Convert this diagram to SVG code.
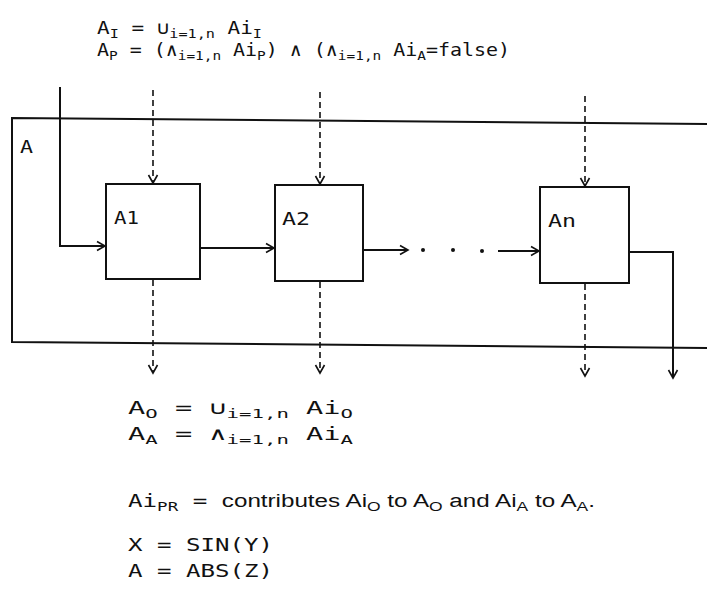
<svg xmlns="http://www.w3.org/2000/svg" width="707" height="602" viewBox="0 0 707 602">
<style>
.ln{fill:none;stroke:#111;stroke-width:2}
.ds{fill:none;stroke:#111;stroke-width:1.6;stroke-dasharray:6,4}
.bx{fill:#fff;stroke:#111;stroke-width:2}
.t{font-family:"DejaVu Sans Mono","Liberation Mono",monospace;font-size:18px;fill:#111}
.s{font-size:13px}
.p{font-family:"Liberation Sans",Arial,sans-serif}
</style>
<defs>
<marker id="ah" markerWidth="12" markerHeight="12" refX="10" refY="6" orient="auto" markerUnits="userSpaceOnUse">
<path d="M2,1.5 L10,6 L2,10.5" fill="none" stroke="#111" stroke-width="1.6"/>
</marker>
</defs>
<g id="A">
<path class="ln" d="M707,124 L12,118 L12,342 L707,348"/>
<text class="t" x="20" y="153" textLength="13" lengthAdjust="spacingAndGlyphs">A</text>
</g>
<g id="A1">
<rect class="bx" x="106" y="184" width="94" height="95"/>
<text class="t" x="114" y="224" textLength="25" lengthAdjust="spacingAndGlyphs">A1</text>
</g>
<g id="A2">
<rect class="bx" x="275" y="185" width="88" height="96"/>
<text class="t" x="282" y="225" textLength="28" lengthAdjust="spacingAndGlyphs">A2</text>
</g>
<g id="An">
<rect class="bx" x="540" y="187" width="89" height="96"/>
<text class="t" x="548" y="227" textLength="28" lengthAdjust="spacingAndGlyphs">An</text>
</g>
<g id="connectors">
<path class="ln" d="M60,87 L60,246 L105,246" marker-end="url(#ah)"/>
<path class="ln" d="M200,248 L274,248" marker-end="url(#ah)"/>
<path class="ln" d="M363,250 L408,250" marker-end="url(#ah)"/>
<circle cx="423" cy="250" r="2" fill="#111"/>
<circle cx="453" cy="250" r="2" fill="#111"/>
<circle cx="482" cy="251" r="2" fill="#111"/>
<path class="ln" d="M498,251 L539,251" marker-end="url(#ah)"/>
<path class="ln" d="M629,252 L673,252 L673,378" marker-end="url(#ah)"/>
<path class="ds" d="M153,90 L153,183" marker-end="url(#ah)"/>
<path class="ds" d="M320,92 L320,184" marker-end="url(#ah)"/>
<path class="ds" d="M585,96 L585,186" marker-end="url(#ah)"/>
<path class="ds" d="M153,280 L153,373" marker-end="url(#ah)"/>
<path class="ds" d="M320,282 L320,373" marker-end="url(#ah)"/>
<path class="ds" d="M585,284 L585,376" marker-end="url(#ah)"/>
</g>
<g id="text">
<text class="t" x="97" y="34" textLength="165" lengthAdjust="spacingAndGlyphs">A<tspan class="s" dy="4">I</tspan><tspan dy="-4"> = ∪</tspan><tspan class="s" dy="4">i=1,n</tspan><tspan dy="-4"> Ai</tspan><tspan class="s" dy="4">I</tspan></text>
<text class="t" x="97" y="56" textLength="413" lengthAdjust="spacingAndGlyphs">A<tspan class="s" dy="4">P</tspan><tspan dy="-4"> = (∧</tspan><tspan class="s" dy="4">i=1,n</tspan><tspan dy="-4"> Ai</tspan><tspan class="s" dy="4">P</tspan><tspan dy="-4">) ∧ (∧</tspan><tspan class="s" dy="4">i=1,n</tspan><tspan dy="-4"> Ai</tspan><tspan class="s" dy="4">A</tspan><tspan dy="-4">=false)</tspan></text>
<text class="t" x="128" y="414" textLength="225" lengthAdjust="spacingAndGlyphs">A<tspan class="s" dy="4">O</tspan><tspan dy="-4"> = ∪</tspan><tspan class="s" dy="4">i=1,n</tspan><tspan dy="-4"> Ai</tspan><tspan class="s" dy="4">O</tspan></text>
<text class="t" x="128" y="440" textLength="225" lengthAdjust="spacingAndGlyphs">A<tspan class="s" dy="4">A</tspan><tspan dy="-4"> = ∧</tspan><tspan class="s" dy="4">i=1,n</tspan><tspan dy="-4"> Ai</tspan><tspan class="s" dy="4">A</tspan></text>
<text class="t" x="128" y="507" textLength="467" lengthAdjust="spacingAndGlyphs">Ai<tspan class="s" dy="4">PR</tspan><tspan dy="-4"> = </tspan><tspan class="p">contributes Ai</tspan><tspan class="p s" dy="4">O</tspan><tspan class="p" dy="-4"> to A</tspan><tspan class="p s" dy="4">O</tspan><tspan class="p" dy="-4"> and Ai</tspan><tspan class="p s" dy="4">A</tspan><tspan class="p" dy="-4"> to A</tspan><tspan class="p s" dy="4">A</tspan><tspan class="p" dy="-4">.</tspan></text>
<text class="t" x="128" y="551" textLength="145" lengthAdjust="spacingAndGlyphs">X = SIN(Y)</text>
<text class="t" x="128" y="577" textLength="145" lengthAdjust="spacingAndGlyphs">A = ABS(Z)</text>
</g>
</svg>
